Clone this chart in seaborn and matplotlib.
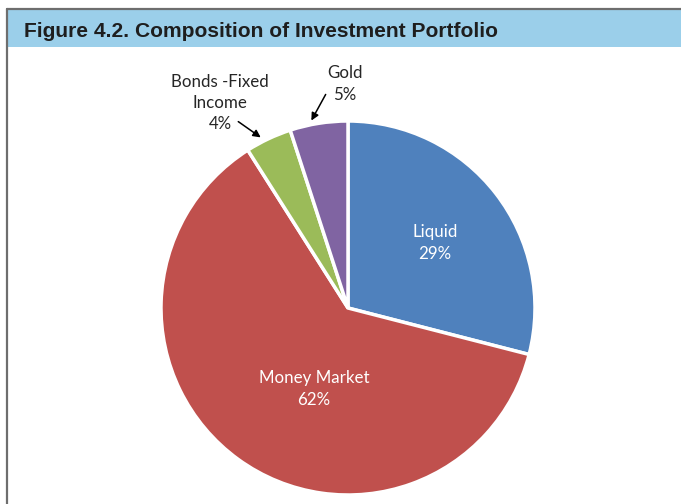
import matplotlib
matplotlib.use("Agg")
import matplotlib.pyplot as plt
import seaborn as sns
from matplotlib.patches import Rectangle
from matplotlib.lines import Line2D

categories = ["Liquid", "Money Market", "Bonds -Fixed\nIncome", "Gold"]
values = [29, 62, 4, 5]
colors = ["#4F81BD", "#C0504D", "#9BBB59", "#8064A2"]
title = "Figure 4.2. Composition of Investment Portfolio"

sns.set_theme(style="white")
plt.rcParams['font.family'] = ['Lato', 'DejaVu Sans']

W, H = 681, 504
fig = plt.figure(figsize=(W / 100, H / 100), dpi=100)
fig.patch.set_facecolor("white")

# Title bar and frame
fig.patches.append(Rectangle((8 / W, 1 - 47 / H), 1 - 8 / W, 37 / H,
                             transform=fig.transFigure, facecolor="#9BCFEA",
                             edgecolor="none", zorder=0))
fig.lines.append(Line2D([7 / W, 7 / W], [0, 1 - 9 / H], transform=fig.transFigure,
                        color="#6E6E6E", linewidth=1.6))
fig.lines.append(Line2D([7 / W, 1], [1 - 9 / H, 1 - 9 / H], transform=fig.transFigure,
                        color="#6E6E6E", linewidth=1.6))
fig.text(24 / W, 1 - 36.7 / H, title, fontsize=15.15, fontweight="bold",
         family="Liberation Sans", color="#1e1e1e", va="baseline", ha="left")

# Pie axes: center (348,308), radius 187 px
cx, cy, r = 348, 308, 187
ax = fig.add_axes([(cx - r) / W, 1 - (cy + r) / H, 2 * r / W, 2 * r / H])
pal = sns.color_palette(colors)
wedges, _ = ax.pie(values, colors=pal, startangle=90, counterclock=False,
                   radius=1, wedgeprops=dict(edgecolor="white", linewidth=2.5))
ax.set_xlim(-1, 1)
ax.set_ylim(-1, 1)
ax.set_aspect("equal")
ax.axis("off")

def px(x, y):
    return ((x - cx) / r, (cy - y) / r)

labels = [f"{c}\n{v}%" for c, v in zip(categories, values)]
fs = 12.2
ax.text(*px(435, 243), labels[0], color="white", ha="center", va="center", fontsize=fs, linespacing=1.45)
ax.text(*px(314, 389), labels[1], color="white", ha="center", va="center", fontsize=fs, linespacing=1.45)
ax.text(*px(220, 103), labels[2], color="#262626", ha="center", va="center", fontsize=fs, linespacing=1.4)
ax.text(*px(345, 84), labels[3], color="#262626", ha="center", va="center", fontsize=fs, linespacing=1.45)

ax.annotate("", xy=px(263, 139), xytext=px(236, 120),
            arrowprops=dict(arrowstyle="-|>", color="black", lw=1.1, mutation_scale=11),
            annotation_clip=False)
ax.annotate("", xy=px(310, 123), xytext=px(327, 92),
            arrowprops=dict(arrowstyle="-|>", color="black", lw=1.1, mutation_scale=11),
            annotation_clip=False)

fig.savefig("out.png", dpi=100)
